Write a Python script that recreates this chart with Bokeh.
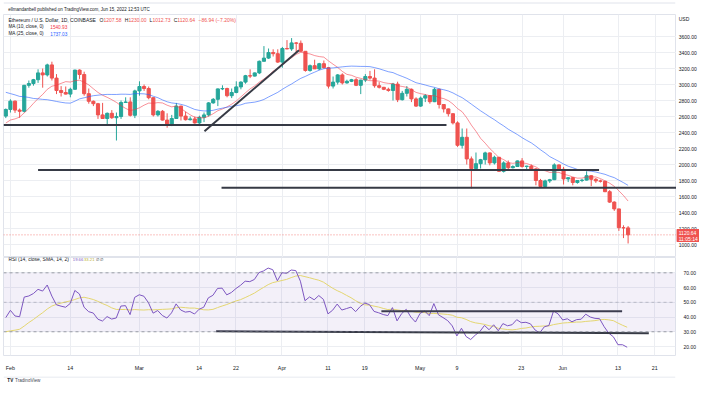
import numpy as np
from bokeh.plotting import figure
from bokeh.layouts import column, row
from bokeh.models import (ColumnDataSource, Range1d, FixedTicker, NumeralTickFormatter,
                          Label, Span, BoxAnnotation)
from bokeh.core.properties import value
from bokeh.embed import file_html
from bokeh.resources import INLINE

# ---------------- data (ETH/USD daily, Jan 31 .. Jun 15 2022) ----------------
opens = [2605, 2688, 2792, 2680, 2665, 2990, 3012, 3060, 3145, 3120, 3245, 3080, 2925, 2900, 2880,
         2940, 3180, 3125, 2885, 2790, 2760, 2620, 2575, 2640, 2585, 2600, 2775, 2782, 2615,
         2920, 2975, 2950, 2835, 2620, 2665, 2555, 2495, 2575, 2730, 2605, 2560, 2570, 2520, 2590,
         2620, 2770, 2815, 2945, 2950, 2860, 2900, 2970, 3030, 3110, 3105, 3145, 3290, 3330, 3400, 3385,
         3280, 3450, 3445, 3520, 3515, 3415, 3175, 3235, 3195, 3260, 3210, 2980, 3030, 3120, 3020,
         3040, 3060, 2990, 3055, 3100, 3080, 2985, 2965, 2940, 2925, 3005, 2810, 2890, 2940, 2820,
         2730, 2830, 2860, 2785, 2940, 2750, 2695, 2635, 2520, 2240, 2340, 2070, 1950, 2010, 2060,
         2145, 2020, 2090, 1915, 2020, 1960, 1975, 2045, 1975, 1980, 1945, 1800, 1725, 1795, 1810, 1995,
         1940, 1820, 1835, 1775, 1800, 1805, 1860, 1815, 1795, 1790, 1660, 1530, 1445, 1210, 1207.58]
highs = [2700, 2815, 2800, 2700, 2995, 3050, 3070, 3190, 3200, 3260, 3285, 3130, 2980, 2975, 2960,
         3185, 3190, 3160, 2950, 2800, 2770, 2770, 2650, 2680, 2650, 2800, 2840, 2840, 2935,
         3040, 3000, 2975, 2840, 2680, 2680, 2640, 2620, 2770, 2735, 2660, 2600, 2600, 2610, 2650,
         2780, 2830, 2950, 2990, 2960, 2950, 3040, 3040, 3120, 3190, 3150, 3300, 3480, 3450, 3440, 3440,
         3470, 3555, 3580, 3530, 3550, 3415, 3250, 3310, 3270, 3300, 3220, 3100, 3130, 3140, 3060,
         3070, 3080, 3060, 3130, 3170, 3190, 3030, 2970, 2960, 3020, 3035, 2920, 2980, 2950, 2840,
         2850, 2880, 2860, 2960, 2950, 2750, 2700, 2640, 2540, 2450, 2450, 2100, 2150, 2070, 2160,
         2150, 2110, 2095, 2040, 2050, 1990, 2050, 2080, 1985, 2000, 1955, 1820, 1810, 1820, 2015, 2000,
         1970, 1840, 1840, 1805, 1820, 1915, 1865, 1830, 1810, 1795, 1680, 1540, 1445, 1240, 1230.00]
lows = [2580, 2650, 2645, 2585, 2650, 2960, 2985, 3020, 2960, 3100, 3050, 2880, 2850, 2875, 2840,
        2935, 3070, 2860, 2760, 2730, 2570, 2570, 2500, 2570, 2300, 2570, 2770, 2600, 2580,
        2860, 2920, 2815, 2600, 2600, 2550, 2460, 2480, 2570, 2550, 2550, 2550, 2510, 2500, 2530,
        2600, 2760, 2730, 2930, 2840, 2830, 2890, 2940, 3010, 3080, 3100, 3130, 3290, 3320, 3350, 3270,
        3210, 3440, 3420, 3400, 3410, 3160, 3160, 3200, 3180, 3200, 2950, 2950, 3000, 3000, 3010,
        3030, 2980, 2880, 3030, 3060, 2960, 2950, 2930, 2910, 2800, 2780, 2800, 2850, 2780, 2720,
        2720, 2780, 2760, 2780, 2700, 2650, 2600, 2500, 2220, 2200, 2000, 1700, 1950, 1950, 2000,
        1990, 2000, 1910, 1900, 1930, 1950, 1970, 1960, 1930, 1920, 1740, 1720, 1725, 1770, 1805, 1920,
        1750, 1780, 1740, 1760, 1780, 1800, 1730, 1770, 1775, 1655, 1520, 1420, 1170, 1080, 1012.73]
closes = [2688, 2792, 2680, 2665, 2990, 3012, 3060, 3145, 3120, 3245, 3080, 2925, 2900, 2880, 2940,
          3180, 3125, 2885, 2790, 2760, 2620, 2575, 2640, 2585, 2600, 2775, 2782, 2615, 2920,
          2975, 2950, 2835, 2620, 2665, 2555, 2495, 2575, 2730, 2605, 2560, 2570, 2520, 2590, 2620,
          2770, 2815, 2945, 2950, 2860, 2900, 2970, 3030, 3110, 3105, 3145, 3290, 3330, 3400, 3385, 3280,
          3450, 3445, 3520, 3515, 3415, 3175, 3235, 3195, 3260, 3210, 2980, 3030, 3120, 3020, 3040,
          3060, 2990, 3055, 3100, 3080, 2985, 2965, 2940, 2925, 3005, 2810, 2890, 2940, 2820, 2730,
          2830, 2860, 2785, 2940, 2750, 2695, 2635, 2520, 2240, 2340, 2070, 1950, 2010, 2060, 2145,
          2020, 2090, 1915, 2020, 1960, 1975, 2045, 1975, 1980, 1945, 1800, 1725, 1795, 1810, 1995, 1940,
          1820, 1835, 1775, 1800, 1805, 1860, 1815, 1795, 1790, 1660, 1530, 1445, 1210, 1207.58, 1120.64]
# closes before the visible window (Dec 20 2021 .. Jan 30 2022), only used to warm up MA / RSI
prior_closes = [3940, 4020, 3980, 4110, 4050, 4095, 4065, 4035, 3795, 3630, 3710, 3680,
                3770, 3830, 3765, 3790, 3540, 3405, 3200, 3080, 3150, 3080, 3240, 3375, 3250,
                3310, 3330, 3350, 3210, 3160, 3090, 3000, 2560, 2410, 2540, 2440, 2460, 2465,
                2420, 2550, 2600, 2605]

tick_days = [0, 13, 28, 41, 49, 59, 69, 77, 89, 97, 111, 120, 132, 140]   # days after Feb 1
tick_labels = ["Feb", "14", "Mar", "14", "22", "Apr", "11", "19", "May", "9", "23", "Jun", "13", "21"]
price_ticks = [1000, 1200, 1400, 1600, 1800, 2000, 2200, 2400, 2600, 2800, 3000, 3200, 3400, 3600]
rsi_ticks = [20, 30, 40, 50, 60, 70]

# drawn trend lines (day index, price)
hline_x0 = [-1.5, 6.0, 45.8]
hline_x1 = [94.6, 127.7, 144.5]
hline_y = [2495, 1930, 1708]
diag_x = [42.1, 62.6]
diag_y = [2416, 3429]
# drawn lines in RSI pane (day index, rsi)
rsi_line_x0 = [80.6, 44.7]
rsi_line_x1 = [132.9, 138.7]
rsi_line_y0 = [44.0, 30.3]
rsi_line_y1 = [44.0, 29.0]

assert len(opens) == len(highs) == len(lows) == len(closes) == 136

# ---------------- indicators ----------------
allc = np.array(prior_closes + closes, dtype=float)
npre = len(prior_closes)

def sma(a, n):
    out = np.full(len(a), np.nan)
    for i in range(n - 1, len(a)):
        w = a[i - n + 1:i + 1]
        if not np.isnan(w).any():
            out[i] = w.mean()
    return out

def rsi(a, n=14):
    ch = np.diff(a)
    g = np.clip(ch, 0, None)
    l = np.clip(-ch, 0, None)
    out = np.full(len(a), np.nan)
    ag = g[:n].mean(); al = l[:n].mean()
    out[n] = 100 - 100 / (1 + ag / al)
    for i in range(n, len(ch)):
        ag = (ag * (n - 1) + g[i]) / n
        al = (al * (n - 1) + l[i]) / n
        out[i + 1] = 100 - 100 / (1 + ag / al)
    return out

ma10 = sma(allc, 10)[npre:]
ma25 = sma(allc, 25)[npre:]
r = rsi(allc)
rma = sma(r, 14)[npre:]
r = r[npre:]

days = np.arange(len(closes)) - 1  # Jan 31 = -1
GREEN, RED = "#26a69a", "#ef5350"
cols = [GREEN if c >= o else RED for o, c in zip(opens, closes)]
src = ColumnDataSource(dict(d=days, o=opens, h=highs, l=lows, c=closes,
                            top=[max(o, c) for o, c in zip(opens, closes)],
                            bot=[min(o, c) for o, c in zip(opens, closes)],
                            col=cols, ma10=ma10, ma25=ma25, rsi=r, rma=rma))

FONT = "Liberation Sans"
TXT = "#131722"
GRID = "#eceef2"
BORDER = "#e0e3eb"
W = 699
LB = 3            # left border
FW = 673          # frame width of the two panes
AXW = W - LB - FW # price-axis column width
HH, MH, RH, XH, FH = 14, 243, 104, 12, 9
xr = Range1d(-1.5, 144.5)
yr = Range1d(837.5, 3875)

def bare(fig):
    fig.grid.visible = False
    fig.outline_line_color = None

# ---------------- header ----------------
hdr = figure(width=W, height=HH, x_range=Range1d(0, W), y_range=Range1d(0, HH),
             output_backend="svg", toolbar_location=None, min_border=0,
             x_axis_location=None, y_axis_location=None)
bare(hdr)
hdr.add_layout(Span(location=HH - 2.5, dimension="width", line_color=BORDER, line_width=1))
hdr.add_layout(Label(x=5, y=5.5, text="ellmandanbell published on TradingView.com, Jun 15, 2022 12:53 UTC",
                     text_font_size="4.5px", text_baseline="middle", text_color=TXT, text_font=FONT))

# ---------------- main pane ----------------
p = figure(width=LB + FW, height=MH, x_range=xr, y_range=yr,
           output_backend="svg", toolbar_location=None, y_axis_location=None,
           x_axis_location=None, min_border_left=LB, min_border_right=0,
           min_border_top=0, min_border_bottom=0)
p.outline_line_color = BORDER
p.xgrid.ticker = FixedTicker(ticks=tick_days)
p.ygrid.ticker = FixedTicker(ticks=price_ticks)
p.xgrid.grid_line_color = GRID
p.ygrid.grid_line_color = GRID

p.segment(x0="d", y0="l", x1="d", y1="h", color="col", line_width=1, source=src)
p.vbar(x="d", width=0.68, top="top", bottom="bot", fill_color="col", line_color="col", source=src)
p.line("d", "ma10", source=src, line_color="#f23645", line_alpha=0.55, line_width=1)
p.line("d", "ma25", source=src, line_color="#2962ff", line_alpha=0.6, line_width=1)

p.add_layout(Span(location=closes[-1], dimension="width", line_color=RED, line_dash="1 2",
                  line_alpha=0.7, line_width=1))
p.segment(x0=hline_x0, y0=hline_y, x1=hline_x1, y1=hline_y, line_color="#363a45", line_width=2)
p.line(diag_x, diag_y, line_color="#363a45", line_width=2)

def lab(fig, x, y, text, color=TXT, size="5px", **kw):
    fig.add_layout(Label(x=x, y=y, x_units="screen", y_units="screen", text=text,
                         text_font_size=size, text_color=color, text_font=FONT,
                         text_baseline="middle", **kw))

y1, y2, y3 = MH - 5.7, MH - 12.3, MH - 19
lab(p, 4.9, y1, "Ethereum / U.S. Dollar, 1D, COINBASE")
for x, t, c in [(96.1, "O", TXT), (100.0, "1207.58", RED), (121.3, "H", TXT), (124.9, "1230.00", RED),
                (146.1, "L", TXT), (148.9, "1012.73", RED), (170.2, "C", TXT), (173.8, "1120.64", RED),
                (195.1, "\u221286.94 (\u22127.20%)", RED)]:
    lab(p, x, y1, t, c)
lab(p, 4.9, y2, "MA (10, close, 0)", size="4.7px")
lab(p, 46.8, y2, "1540.93", "#f23645", size="4.7px")
lab(p, 4.9, y3, "MA (25, close, 0)", size="4.7px")
lab(p, 46.8, y3, "1737.03", "#2962ff", size="4.7px")

# price-axis column (shares the price scale of the main pane)
pa = figure(width=AXW, height=MH, x_range=Range1d(0, AXW), y_range=yr,
            output_backend="svg", toolbar_location=None, min_border=0,
            x_axis_location=None, y_axis_location=None)
bare(pa)
pa.text(x=[2.2] * len(price_ticks), y=price_ticks, text=[f"{t:.2f}" for t in price_ticks],
        text_font=value(FONT), text_font_size="5px", text_color=TXT, text_baseline="middle")
pa.text(x=[2.2], y=[3825], text=["USD"], text_font=value(FONT), text_font_size="5px",
        text_color=TXT, text_baseline="middle")
pa.quad(left=[0.3], right=[AXW - 0.3], bottom=[closes[-1] - 83], top=[closes[-1] + 67],
        fill_color=RED, line_color=RED)
pa.text(x=[2.2, 2.2], y=[closes[-1] + 25, closes[-1] - 50],
        text=[f"{closes[-1]:.2f}", "11:05:14"], text_font=value(FONT),
        text_font_size="5px", text_color="white", text_baseline="middle")

# ---------------- RSI pane ----------------
q = figure(width=W, height=RH + XH, x_range=xr, y_range=Range1d(13.9, 80.4),
           output_backend="svg", toolbar_location=None, y_axis_location="right",
           min_border_left=LB, min_border_right=AXW, min_border_top=0, min_border_bottom=XH)
q.outline_line_color = BORDER
q.xgrid.ticker = FixedTicker(ticks=tick_days)
q.xgrid.grid_line_color = GRID
q.ygrid.grid_line_color = GRID
qa = q.yaxis[0]
qa.ticker = FixedTicker(ticks=rsi_ticks)
qa.formatter = NumeralTickFormatter(format="0.00")
xa = q.xaxis[0]
xa.ticker = FixedTicker(ticks=tick_days)
xa.major_label_overrides = {d: t for d, t in zip(tick_days, tick_labels)}
for ax in (qa, xa):
    ax.major_label_text_font_size = "5px"
    ax.major_label_text_font = FONT
    ax.major_label_text_color = TXT
    ax.axis_line_color = None
    ax.major_tick_line_color = None
    ax.minor_tick_line_color = None
    ax.major_label_standoff = 2
xa.major_label_text_font_size = "5.3px"
xa.major_label_standoff = 3

q.add_layout(BoxAnnotation(bottom=30, top=70, fill_color="#7e57c2", fill_alpha=0.09, line_color=None))
for lv, al in [(70, 0.7), (50, 0.4), (30, 0.7)]:
    q.add_layout(Span(location=lv, dimension="width", line_color="#787b86", line_dash="3 3",
                      line_alpha=al, line_width=1))
q.line("d", "rma", source=src, line_color="#efe36a", line_width=1)
q.line("d", "rsi", source=src, line_color="#7e57c2", line_width=1)
q.segment(x0=rsi_line_x0, y0=rsi_line_y0, x1=rsi_line_x1, y1=rsi_line_y1,
          line_color="#363a45", line_width=2)

ry = RH - 7.6
lab(q, 4.9, ry, "RSI (14, close, SMA, 14, 2)")
lab(q, 69.3, ry, "19.66", "#7e57c2", size="4.2px")
lab(q, 80.5, ry, "33.21", "#b9b22a", size="4.2px")
lab(q, 92.8, ry, "\u2205  \u2205", size="4.2px")

# ---------------- footer ----------------
ft = figure(width=W, height=FH, x_range=Range1d(0, W), y_range=Range1d(0, FH),
            output_backend="svg", toolbar_location=None, min_border=0,
            x_axis_location=None, y_axis_location=None)
bare(ft)
ft.add_layout(Span(location=FH - 0.5, dimension="width", line_color=BORDER, line_width=1))
ft.add_layout(Label(x=4, y=4.8, text="TV", text_font_size="4.6px", text_font_style="bold",
                    text_baseline="middle", text_color=TXT, text_font=FONT))
ft.add_layout(Label(x=12, y=4.8, text="TradingView", text_font_size="4.6px",
                    text_baseline="middle", text_color="#434651", text_font=FONT))

layout = column(hdr, row(p, pa, spacing=0), q, ft, spacing=0)
open("out.html", "w").write(file_html(layout, INLINE))
